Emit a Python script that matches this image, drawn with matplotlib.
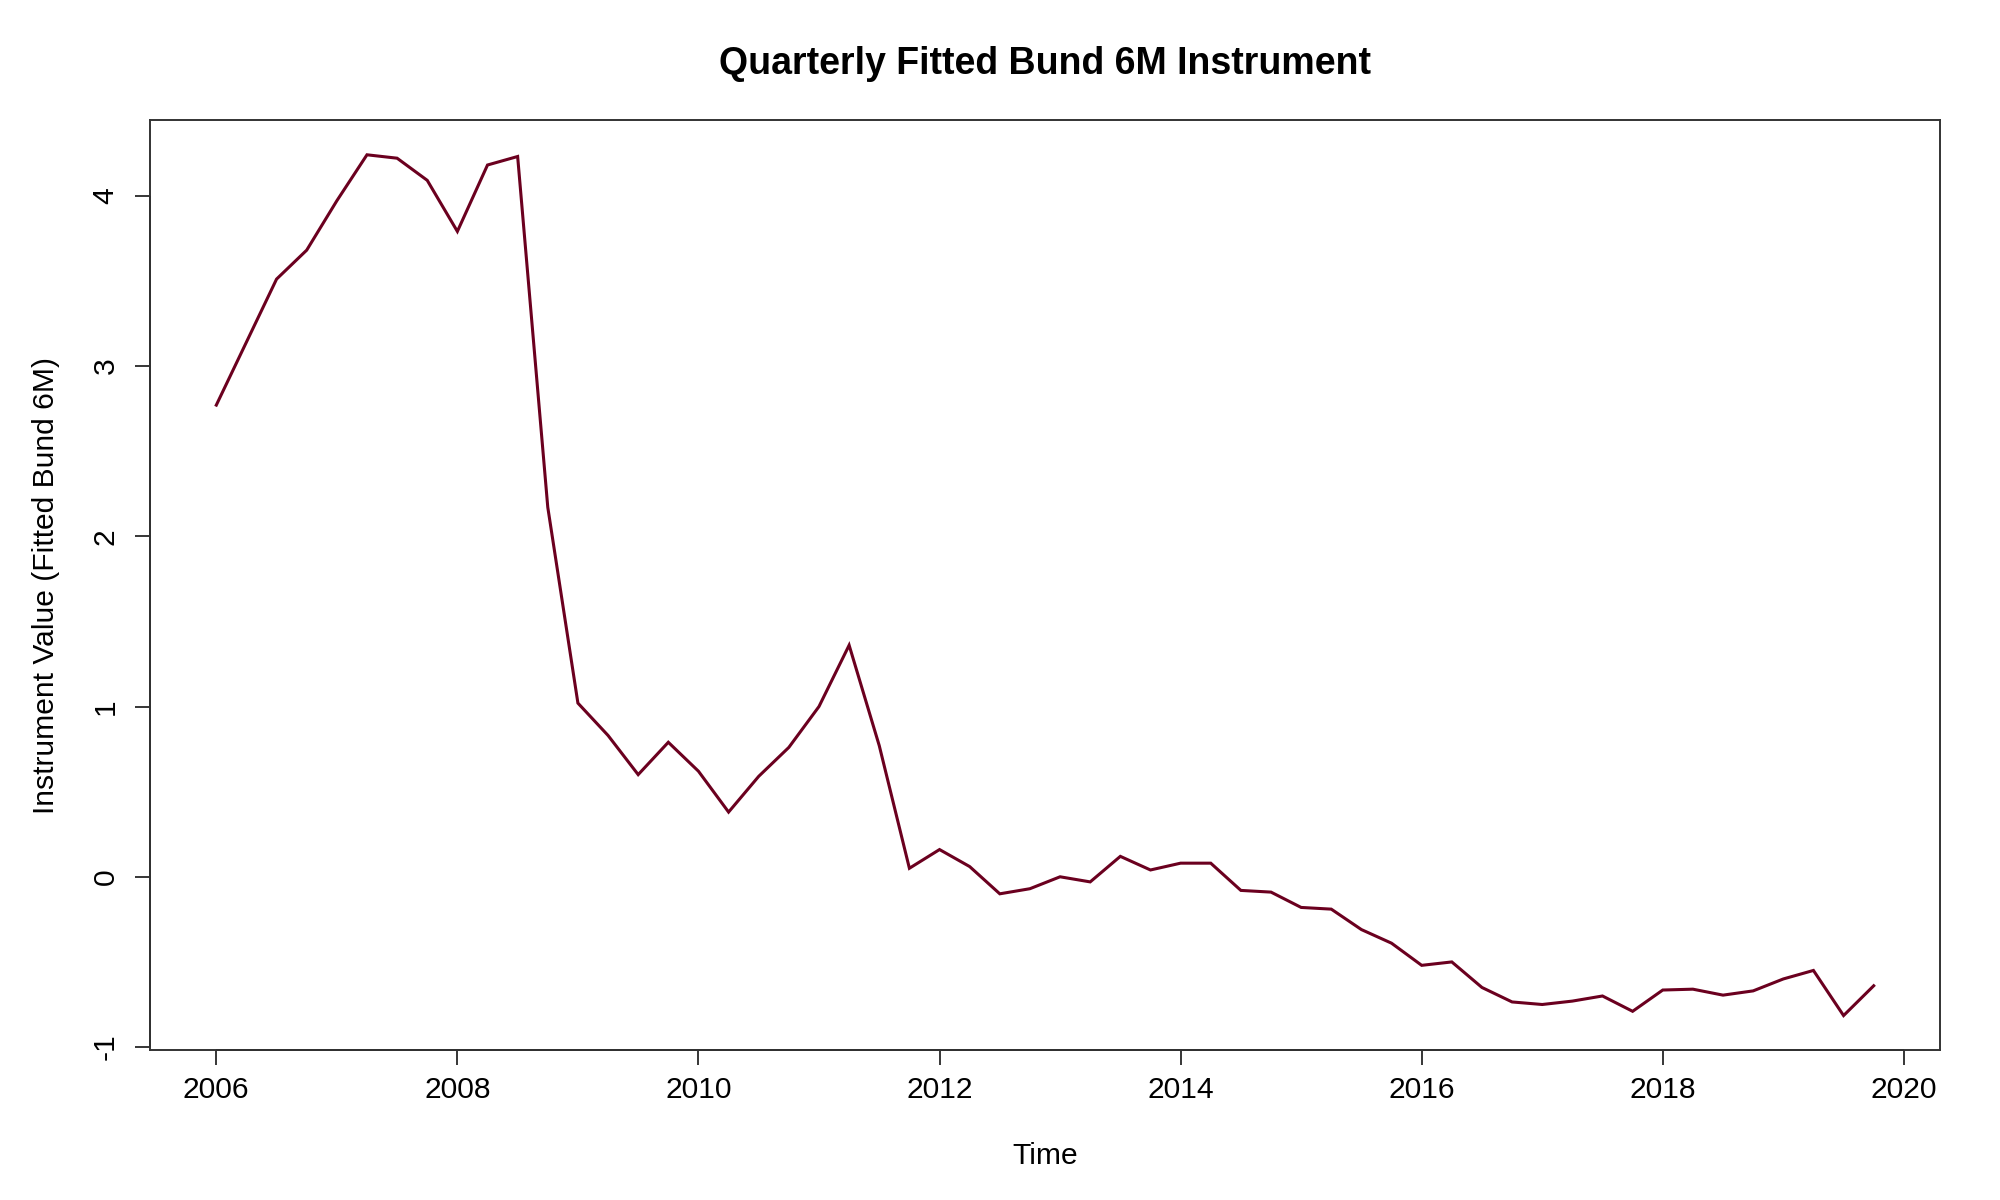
import numpy as np
import matplotlib
matplotlib.use("Agg")
import matplotlib.pyplot as plt

plt.rcParams['font.family'] = ['Liberation Sans', 'DejaVu Sans']

# ---- data ----
start_year = 2006.0
values = [
    2.77, 3.14, 3.51, 3.68, 3.97, 4.24, 4.22, 4.09,   # 2006-2007
    3.79, 4.18, 4.23, 2.17, 1.02, 0.83, 0.60, 0.79,   # 2008-2009
    0.62, 0.38, 0.59, 0.76, 1.00, 1.36, 0.77, 0.05,   # 2010-2011
    0.16, 0.06, -0.10, -0.07, 0.00, -0.03, 0.12, 0.04, # 2012-2013
    0.08, 0.08, -0.08, -0.09, -0.18, -0.19, -0.31, -0.39, # 2014-2015
    -0.52, -0.50, -0.65, -0.735, -0.75, -0.73, -0.70, -0.79, # 2016-2017
    -0.665, -0.66, -0.695, -0.67, -0.60, -0.55, -0.815, -0.64, # 2018-2019
]
x_ticks = [2006, 2008, 2010, 2012, 2014, 2016, 2018, 2020]
y_ticks = [-1, 0, 1, 2, 3, 4]
title = "Quarterly Fitted Bund 6M Instrument"
xlabel = "Time"
ylabel = "Instrument Value (Fitted Bund 6M)"
line_color = "#6B001F"

t = start_year + np.arange(len(values)) / 4.0
v = np.array(values)

fig = plt.figure(figsize=(20, 12), dpi=100)
ax = fig.add_axes([0.075, 0.125, 0.895, 0.7747])
ax.plot(t, v, color=line_color, lw=2.2, solid_joinstyle='miter')

# R-style 4% padding
xr = t.max() - t.min()
yr = v.max() - v.min()
ax.set_xlim(t.min() - 0.04 * xr, t.max() + 0.04 * xr)
ax.set_ylim(v.min() - 0.04 * yr, v.max() + 0.04 * yr)

ax.set_xticks(x_ticks)
ax.set_xticklabels([str(x) for x in x_ticks])
ax.set_yticks(y_ticks)
ax.set_yticklabels([str(y) for y in y_ticks], rotation=90, va='center')
ax.tick_params(axis='both', direction='out', length=10.8, width=1.1,
               labelsize=21.6, colors='black')
ax.tick_params(axis='x', pad=8)
ax.tick_params(axis='y', pad=11)

for s in ax.spines.values():
    s.set_color('#333333')
    s.set_linewidth(1.4)

# R axis lines spanning first to last tick
y0 = ax.get_ylim()[0]
x0 = ax.get_xlim()[0]
ax.plot([x_ticks[0], x_ticks[-1]], [y0, y0], color='black', lw=1.4,
        clip_on=False, solid_capstyle='butt')
ax.plot([x0, x0], [y_ticks[0], y_ticks[-1]], color='black', lw=1.4,
        clip_on=False, solid_capstyle='butt')
ax.set_xlim(t.min() - 0.04 * xr, t.max() + 0.04 * xr)
ax.set_ylim(v.min() - 0.04 * yr, v.max() + 0.04 * yr)

fig.text(0.5225, 0.9383, title, ha='center', va='baseline',
         fontsize=27, fontweight='bold')
fig.text(0.5225, 0.03, xlabel, ha='center', va='baseline', fontsize=21.6)
fig.text(0.023, 0.5125, ylabel, ha='center', va='center', rotation=90,
         fontsize=21.6)

fig.savefig("out.png", dpi=100, facecolor='white')
